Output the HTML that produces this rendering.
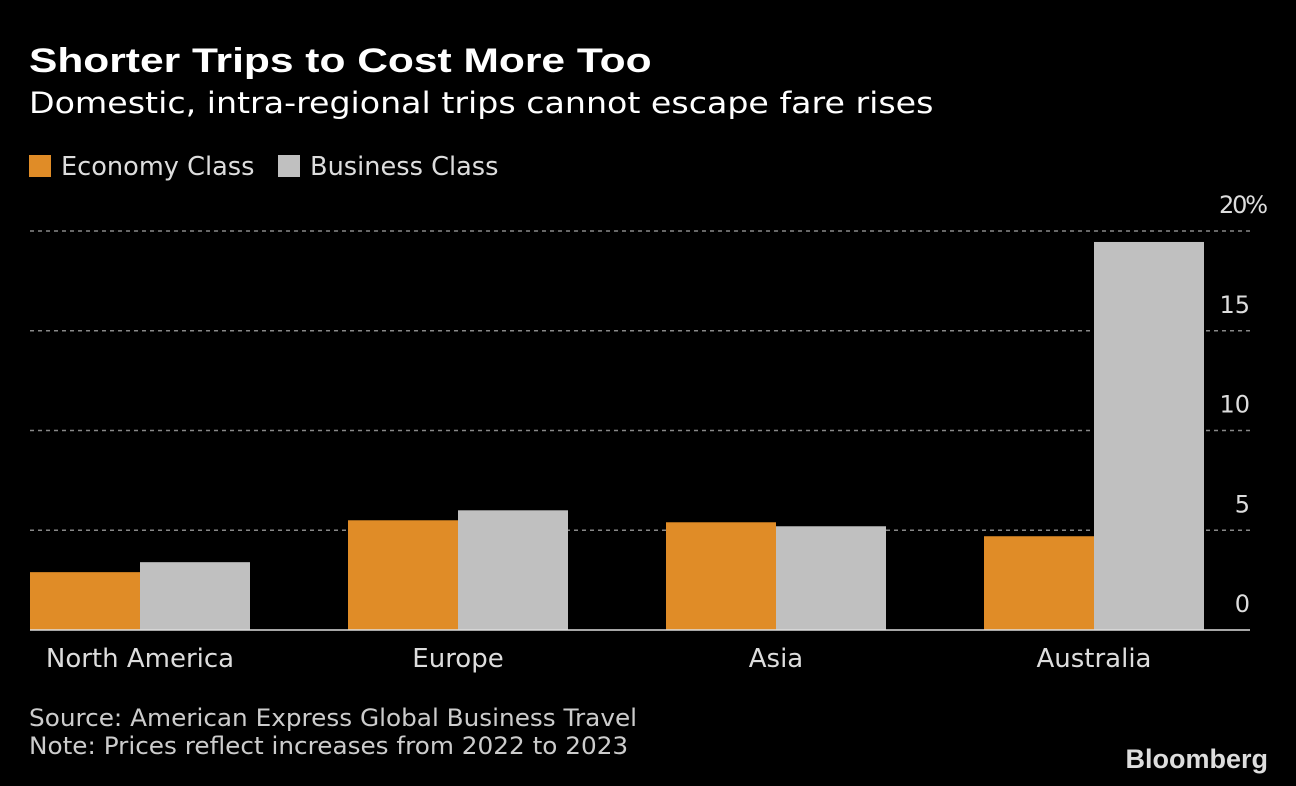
<!DOCTYPE html>
<html><head><meta charset="utf-8"><style>
html,body{margin:0;padding:0;background:#000;}
body{width:1296px;height:786px;position:relative;overflow:hidden;font-family:"DejaVu Sans","Liberation Sans",sans-serif;color:#fff;}
.t{position:absolute;white-space:nowrap;}
</style></head><body>
<div class="t" style="left:29px;top:42px;font-size:34px;font-weight:bold;font-family:'Liberation Sans',sans-serif;transform:scaleX(1.25);transform-origin:left;">Shorter Trips to Cost More Too</div>
<div class="t" style="left:29px;top:86px;font-size:29px;font-family:'DejaVu Sans',sans-serif;transform:scaleX(1.146);transform-origin:left;">Domestic, intra-regional trips cannot escape fare rises</div>
<div class="t" style="left:29px;top:152px;font-size:26px;color:#ddd;"><span style="display:inline-block;width:22px;height:22px;background:#e08c27;vertical-align:-2px;margin-right:10px"></span><span style="display:inline-block;transform:scaleX(0.985);transform-origin:left">Economy Class</span></div>
<div class="t" style="left:278px;top:152px;font-size:26px;color:#ddd;"><span style="display:inline-block;width:22px;height:22px;background:#c0c0c0;vertical-align:-2px;margin-right:10px"></span><span style="display:inline-block;transform:scaleX(0.985);transform-origin:left">Business Class</span></div>
<svg id="chart" width="1296" height="786" style="position:absolute;left:0;top:0"></svg>
<div class="t" style="left:29px;top:704px;font-size:24px;color:#ccc;transform:scaleX(1.03);transform-origin:left;">Source: American Express Global Business Travel</div>
<div class="t" style="left:29px;top:732px;font-size:24px;color:#ccc;transform:scaleX(1.03);transform-origin:left;">Note: Prices reflect increases from 2022 to 2023</div>
<div class="t" style="right:28px;top:744px;font-size:27px;font-weight:bold;color:#ddd;font-family:'Liberation Sans',sans-serif;">Bloomberg</div>
<script>
const categories=["North America","Europe","Asia","Australia"];
const economy=[2.9,5.5,5.4,4.7];
const business=[3.4,6.0,5.2,19.45];
const ticks=[0,5,10,15,20];
const tickLabels=["0","5","10","15","20%"];
const svg=document.getElementById('chart');
const NS='http://www.w3.org/2000/svg';
const y0=630,yTop=231,xL=30,xR=1250,band=318,barW=110;
const y=v=>y0-(v/20)*(y0-yTop);
function mk(tag,attrs){const e=document.createElementNS(NS,tag);for(const k in attrs)e.setAttribute(k,attrs[k]);svg.appendChild(e);return e;}
ticks.forEach((t,i)=>{
  if(t>0){const g=mk('line',{x1:xL,x2:xR,y1:y(t),y2:y(t),stroke:'#888','stroke-width':1.5,'stroke-dasharray':'4,4'});
  
  }
  const tx=mk('text',{x:1250,y:y(t)-18,'text-anchor':'end','font-size':24,fill:'#ddd','font-family':'DejaVu Sans, sans-serif'});
  tx.textContent=tickLabels[i];
  if(t===20){tx.setAttribute('text-anchor','start');tx.setAttribute('x',1219);tx.setAttribute('textLength',49);}
  
  
});
categories.forEach((c,i)=>{
  const gx=xL+band*i;
  const e=mk('rect',{x:gx,y:y(economy[i]),width:barW,height:y0-y(economy[i]),fill:'#e08c27'});
  
  
  const b=mk('rect',{x:gx+barW,y:y(business[i]),width:barW,height:y0-y(business[i]),fill:'#c0c0c0'});
  
  
  const l=mk('text',{x:gx+barW,y:667,'text-anchor':'middle','font-size':26,fill:'#ddd','font-family':'DejaVu Sans, sans-serif'});
  l.textContent=c;
  
  
});
const base=mk('line',{x1:xL,x2:xR,y1:y0,y2:y0,stroke:'#ddd','stroke-width':1.5});


</script>
</body></html>
